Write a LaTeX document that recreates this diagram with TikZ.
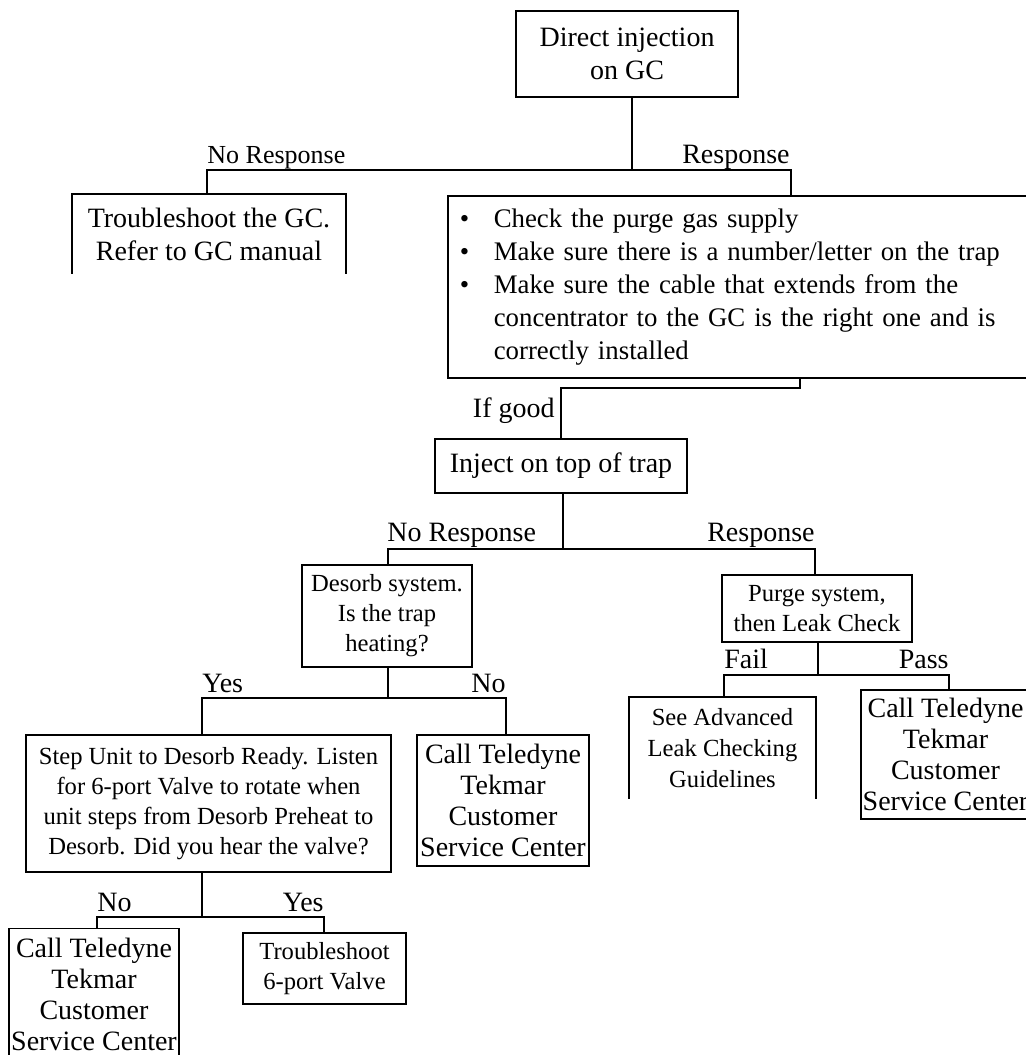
\documentclass[tikz,border=0pt]{standalone}
\usepackage{fontspec}
\setmainfont{Liberation Serif}
\usepackage{tikz}

\tikzset{
  box/.style={draw,line width=0.8pt,align=center,inner sep=0pt,
    font=\fontsize{14}{16.5}\selectfont},
  callbox/.style={box,font=\fontsize{14}{15.5}\selectfont},
  smallbox/.style={box,font=\fontsize{12.3}{15}\selectfont},
  openbox/.style={box,draw=none},
  lbl/.style={inner sep=0pt,font=\fontsize{14}{16}\selectfont},
  wire/.style={line width=0.8pt}
}

\begin{document}
\begin{tikzpicture}[x=0.5pt,y=-0.5pt]
  \useasboundingbox (0,0) rectangle (1026,1055);
  \clip (0,0) rectangle (1026,1055);

  % boxes
  \node[box,minimum width=111pt,minimum height=43pt] (top) at (627,54) {Direct injection\\on GC};
  \node[openbox,minimum width=136pt,minimum height=39pt] (gcbox) at (209,234) {Troubleshoot the GC.\\Refer to GC manual};
  \node[box,anchor=north west,align=left,text width=300pt,inner xsep=6pt,minimum height=91pt,
        font=\fontsize{13.4}{16.5}\selectfont] (checks) at (447,195)
    {\makebox[17pt][l]{\textbullet}Check the purge gas supply\\
     \makebox[17pt][l]{\textbullet}Make sure there is a number/letter on the trap\\
     \makebox[17pt][l]{\textbullet}Make sure the cable that extends from the\\
     \hspace*{17pt}concentrator to the GC is the right one and is\\
     \hspace*{17pt}correctly installed};
  \node[box,minimum width=126pt,minimum height=27pt] (inject) at (561,466) {Inject on top of trap};
  \node[smallbox,minimum width=85pt,minimum height=51pt] (desorb) at (387,616) {Desorb system.\\Is the trap\\heating?};
  \node[smallbox,minimum width=95pt,minimum height=33.5pt] (purge) at (817,608.5) {Purge system,\\then Leak Check};
  \node[smallbox,minimum width=182.5pt,minimum height=68.5pt] (step) at (208.5,803.5)
    {Step Unit to Desorb Ready. Listen\\for 6-port Valve to rotate when\\unit steps from Desorb Preheat to\\Desorb. Did you hear the valve?};
  \node[callbox,minimum width=86pt,minimum height=65.5pt] (callmid) at (503,800.5) {Call Teledyne\\Tekmar\\Customer\\Service Center};
  \node[openbox,font=\fontsize{12.3}{15.5}\selectfont,minimum width=92.5pt,minimum height=50pt] (leak) at (722.5,748) {See Advanced\\Leak Checking\\Guidelines};
  \node[callbox,minimum width=84.5pt,minimum height=64.5pt] (callright) at (945.5,754.5) {Call Teledyne\\Tekmar\\Customer\\Service Center};
  \node[callbox,minimum width=85pt,minimum height=65.5pt] (callleft) at (94,994) {Call Teledyne\\Tekmar\\Customer\\Service Center};
  \node[smallbox,minimum width=81.5pt,minimum height=35.5pt] (valve) at (324.5,968.5) {Troubleshoot\\6-port Valve};

  % open-bottom frames
  \draw[wire] (gcbox.south west) |- (gcbox.north east) -- (gcbox.south east);
  \draw[wire] (leak.south west) |- (leak.north east) -- (leak.south east);

  % branch points
  \coordinate (b1) at (632,170);
  \coordinate (b2) at (561,388);
  \coordinate (b3) at (563,549);
  \coordinate (b4) at (818,675);
  \coordinate (b5) at (388,698);
  \coordinate (b6) at (202,917);

  % connectors
  \draw[wire] (top.south -| b1) -- (b1);
  \draw[wire] (gcbox.north -| 207,0) |- (b1) -| (checks.north -| 791,0);
  \draw[wire] (checks.south -| 800,0) |- (b2) -- (inject.north);
  \draw[wire] (inject.south -| b3) -- (b3);
  \draw[wire] (desorb.north -| 388,0) |- (b3) -| (purge.north -| 815,0);
  \draw[wire] (purge.south -| b4) -- (b4);
  \draw[wire] (leak.north -| 724,0) |- (b4) -| (callright.north -| 949,0);
  \draw[wire] (desorb.south -| b5) -- (b5);
  \draw[wire] (step.north -| 202,0) |- (b5) -| (callmid.north -| 506,0);
  \draw[wire] (step.south -| b6) -- (b6);
  \draw[wire] (callleft.north -| 97,0) |- (b6) -| (valve.north -| 324,0);

  % branch labels
  \node[lbl,anchor=base west,font=\fontsize{13}{15}\selectfont] (nr1) at (207,163) {No Response};
  \node[lbl,anchor=base east] (r1) at (790,163) {Response};
  \node[lbl,anchor=base east] (good) at (555,417) {If good};
  \node[lbl,anchor=base west] (nr2) at (387,541) {No Response};
  \node[lbl,anchor=base east] (r2) at (815,541) {Response};
  \node[lbl,anchor=base west] (fail) at (724,668) {Fail};
  \node[lbl,anchor=base east] (pass) at (949,668) {Pass};
  \node[lbl,anchor=base west] (yes1) at (202,692) {Yes};
  \node[lbl,anchor=base east] (no1) at (506,692) {No};
  \node[lbl,anchor=base west] (no2) at (97,911) {No};
  \node[lbl,anchor=base east] (yes2) at (324,911) {Yes};
\end{tikzpicture}
\end{document}
